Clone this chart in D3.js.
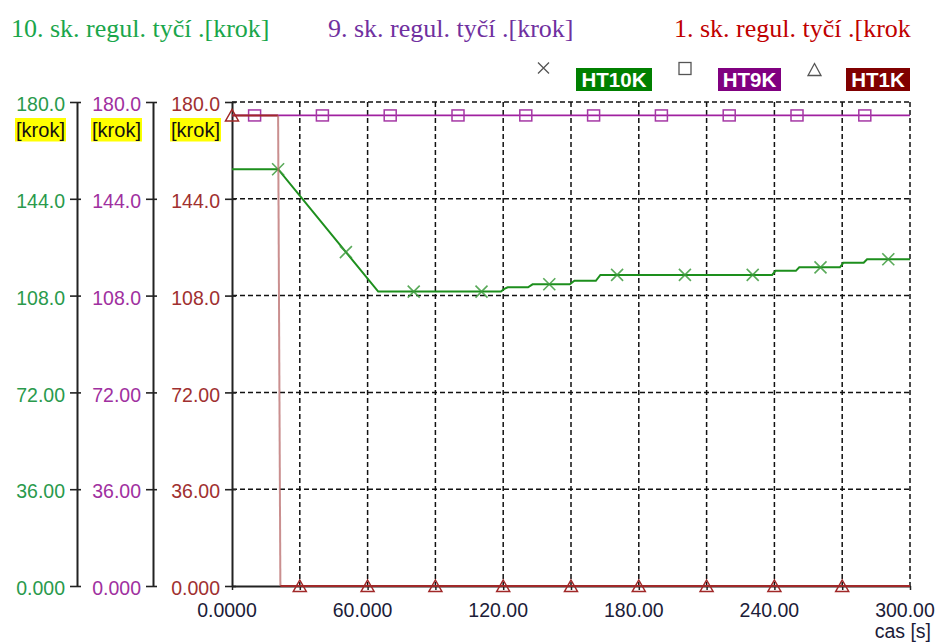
<!DOCTYPE html>
<html>
<head>
<meta charset="utf-8">
<script src="https://cdn.jsdelivr.net/npm/d3@7"></script>
<style>
  html, body { margin: 0; padding: 0; background: #fff; }
  svg { display: block; }
</style>
</head>
<body>
<script>
// Time axis [s]
const timeTicks = [0, 60, 120, 180, 240, 300];
const timeLabels = ["0.0000", "60.000", "120.00", "180.00", "240.00", "300.00"];
const gridTimes = [30, 60, 90, 120, 150, 180, 210, 240, 270, 300];

// Value axes [krok]
const valueTicks = [0, 36, 72, 108, 144, 180];
const valueLabels = ["0.000", "36.00", "72.00", "108.0", "144.0", "180.0"];

// Axis titles
const seriesTitles = ["10. sk. regul. tyčí .[krok]", "9. sk. regul. tyčí .[krok]", "1. sk. regul. tyčí .[krok"];
const legendNames = ["HT10K", "HT9K", "HT1K"];

// HT10K – 10th control rod group position
const ht10kTime = [0, 20.4, 64.7, 119, 120.5, 122, 131, 133, 149.5, 151.5, 161, 163, 239, 240.5, 249.5, 251, 269, 270.5, 279.5, 281, 300];
const ht10kValue = [155, 155, 109.5, 109.5, 110.5, 111.1, 111.1, 112.2, 112.2, 113.5, 113.5, 115.7, 115.7, 117.2, 117.2, 118.5, 118.5, 120.2, 120.2, 121.5, 121.5];
const ht10kMarks = [20.4, 50.4, 80.4, 110.4, 140.4, 170.4, 200.4, 230.4, 260.4, 290.4];

// HT9K – 9th control rod group position
const ht9kTime = [0, 300];
const ht9kValue = [175, 175];
const ht9kMarks = [10, 40, 70, 100, 130, 160, 190, 220, 250, 280];

// HT1K – 1st control rod group position (scram drop at ~20 s)
const ht1kTime = [0, 20.4, 21.4, 300];
const ht1kValue = [175, 175, 0, 0];
const ht1kMarks = [0, 30, 60, 90, 120, 150, 180, 210, 240, 270];

const W = 936, H = 642;
const svg = d3.select("body").append("svg").attr("width", W).attr("height", H);

const x = d3.scaleLinear().domain([0, 300]).range([232, 910]);
const y = d3.scaleLinear().domain([0, 180]).range([586, 102]);

const FONT = "'Liberation Sans', Arial, sans-serif";
const SERIF = "'Liberation Serif', 'Times New Roman', serif";

// piecewise linear lookup along a series
function valueAt(ts, vs, t) {
  for (let i = 1; i < ts.length; i++) {
    if (t <= ts[i]) {
      const f = (t - ts[i - 1]) / (ts[i] - ts[i - 1] || 1);
      return vs[i - 1] + f * (vs[i] - vs[i - 1]);
    }
  }
  return vs[vs.length - 1];
}

// ---- titles ----
const titleColors = ["#1aa64b", "#7030a0", "#c00000"];
const titleX = [11, 328, 674];
svg.selectAll("text.title").data(seriesTitles).join("text")
  .attr("class", "title")
  .attr("x", (d, i) => titleX[i]).attr("y", 37)
  .attr("font-family", SERIF).attr("font-size", 26)
  .attr("fill", (d, i) => titleColors[i])
  .text(d => d);

// ---- legend ----
const legendSym = svg.append("g").attr("stroke", "#555").attr("stroke-width", 1.3).attr("fill", "none");
legendSym.append("path").attr("d", "M538,62.5L549,73.5M549,62.5L538,73.5");
legendSym.append("rect").attr("x", 679).attr("y", 62.5).attr("width", 12).attr("height", 12);
legendSym.append("path").attr("d", "M814.5,63.5L821,75.5L808,75.5Z");

const legendBoxes = [
  { x: 576, w: 76, fill: "#008000" },
  { x: 718, w: 63, fill: "#800080" },
  { x: 846, w: 64, fill: "#800000" }
];
legendBoxes.forEach((b, i) => {
  svg.append("rect").attr("x", b.x).attr("y", 68).attr("width", b.w).attr("height", 23).attr("fill", b.fill);
  svg.append("text").attr("x", b.x + b.w / 2).attr("y", 87)
    .attr("text-anchor", "middle").attr("font-family", FONT).attr("font-weight", "bold")
    .attr("font-size", 20.5).attr("fill", "#fff").text(legendNames[i]);
});

// ---- grid ----
const grid = svg.append("g").attr("stroke", "#111").attr("stroke-width", 1.5).attr("stroke-dasharray", "5,3");
grid.selectAll("line.v").data(gridTimes).join("line")
  .attr("x1", d => x(d)).attr("x2", d => x(d))
  .attr("y1", y(180)).attr("y2", y(0));
grid.selectAll("line.h").data(valueTicks.filter(v => v > 0)).join("line")
  .attr("x1", x(0)).attr("x2", x(300))
  .attr("y1", d => y(d)).attr("y2", d => y(d));

// ---- value axes ----
const axisX = [77, 153, 232];
const axisColors = ["#2a9a4c", "#a030a0", "#a03030"];
axisX.forEach((ax, k) => {
  const g = svg.append("g").attr("transform", `translate(${ax},0)`);
  g.call(d3.axisLeft(y).tickValues(valueTicks).tickFormat((d, i) => valueLabels[i])
    .tickSize(7).tickSizeOuter(0).tickPadding(5));
  g.select(".domain").attr("stroke", "#222").attr("stroke-width", 2);
  g.selectAll(".tick line").attr("stroke", "#222").attr("stroke-width", 1.6);
  g.selectAll(".tick").append("line").attr("x1", 0).attr("x2", 4)
    .attr("stroke", "#222").attr("stroke-width", 1.6);
  g.selectAll(".tick text").attr("font-family", FONT).attr("font-size", 19.5)
    .attr("fill", axisColors[k]).attr("dy", "0.45em");
  // unit badge
  svg.append("rect").attr("x", ax - 62).attr("y", 118).attr("width", 51).attr("height", 23.5).attr("fill", "#ffff00");
  svg.append("text").attr("x", ax - 36.5).attr("y", 137).attr("text-anchor", "middle")
    .attr("font-family", FONT).attr("font-size", 20).attr("fill", "#111").text("[krok]");
});

// ---- time axis ----
const xg = svg.append("g").attr("transform", `translate(0,${y(0)})`);
xg.call(d3.axisBottom(x).tickValues(gridTimes.concat([0])).tickFormat("").tickSize(4).tickSizeOuter(0));
xg.select(".domain").attr("stroke", "#222").attr("stroke-width", 2);
xg.selectAll(".tick line").attr("stroke", "#222").attr("stroke-width", 1.5);
svg.selectAll("text.xl").data(timeTicks).join("text")
  .attr("class", "xl")
  .attr("x", d => x(d) - 5).attr("y", 617)
  .attr("text-anchor", "middle").attr("font-family", FONT).attr("font-size", 19.5)
  .attr("fill", "#1c1c38").text((d, i) => timeLabels[i]);
svg.append("text").attr("x", 931).attr("y", 638).attr("text-anchor", "end")
  .attr("font-family", FONT).attr("font-size", 19.5).attr("fill", "#1c1c38").text("cas [s]");

// ---- series ----
const line = d3.line().x(d => x(d[0])).y(d => y(d[1]));
const zip = (ts, vs) => ts.map((t, i) => [t, vs[i]]);

// HT9K
svg.append("path").datum(zip(ht9kTime, ht9kValue)).attr("d", line)
  .attr("fill", "none").attr("stroke", "#a020a0").attr("stroke-width", 1.8);
svg.append("g").selectAll("rect").data(ht9kMarks).join("rect")
  .attr("x", d => x(d) - 6).attr("y", d => y(valueAt(ht9kTime, ht9kValue, d)) - 5.5)
  .attr("width", 12).attr("height", 11)
  .attr("fill", "none").attr("stroke", "#a538a5").attr("stroke-width", 1.5);

// HT10K
svg.append("path").datum(zip(ht10kTime, ht10kValue)).attr("d", line)
  .attr("fill", "none").attr("stroke", "#1d8f1d").attr("stroke-width", 2);
svg.append("g").selectAll("path").data(ht10kMarks).join("path")
  .attr("transform", d => `translate(${x(d)},${y(valueAt(ht10kTime, ht10kValue, d))})`)
  .attr("d", "M-6,-6L6,6M6,-6L-6,6")
  .attr("fill", "none").attr("stroke", "#3d9b3d").attr("stroke-width", 1.6).attr("opacity", 0.85);

// HT1K: flat parts in dark red, the fast drop rendered faint
const ht1kPts = zip(ht1kTime, ht1kValue);
svg.append("path").datum(ht1kPts.slice(0, 2)).attr("d", line)
  .attr("fill", "none").attr("stroke", "#a02828").attr("stroke-width", 2);
svg.append("path").datum(ht1kPts.slice(1, 3)).attr("d", line)
  .attr("fill", "none").attr("stroke", "#b86a6a").attr("stroke-width", 2).attr("opacity", 0.75);
svg.append("path").datum(ht1kPts.slice(2)).attr("d", line)
  .attr("fill", "none").attr("stroke", "#a02828").attr("stroke-width", 2);
svg.append("g").selectAll("path").data(ht1kMarks).join("path")
  .attr("transform", d => `translate(${x(d)},${y(valueAt(ht1kTime, ht1kValue, d))})`)
  .attr("d", "M0,-6L6.5,5.5L-6.5,5.5Z")
  .attr("fill", "none").attr("stroke", "#a02828").attr("stroke-width", 1.5);
</script>
</body>
</html>
